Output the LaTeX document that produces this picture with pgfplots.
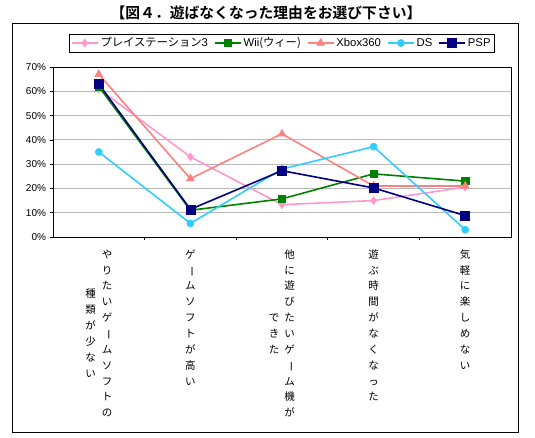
\documentclass[border=0pt]{standalone}
\usepackage{fontspec}
\setmainfont{Liberation Sans}
\newfontfamily\cjk{Noto Sans CJK JP}
\newfontfamily\cjkb{Noto Sans CJK JP Bold}
\usepackage{pgfplots}
\pgfplotsset{compat=1.18}
\definecolor{ps3}{HTML}{FF99CC}
\definecolor{wii}{HTML}{008000}
\definecolor{xbox}{HTML}{FF8080}
\definecolor{ds}{HTML}{33CCFF}
\definecolor{psp}{HTML}{000080}
\newcommand{\chou}{\rotatebox[origin=c]{-90}{ー}}
\newcommand{\vs}[1]{\begin{tabular}[c]{@{}c@{}}#1\end{tabular}}
\newcommand{\lblA}{\begin{tabular}[t]{@{}c@{\hspace{6pt}}c@{}}\vs{種\\類\\が\\少\\な\\い} & \vs{や\\り\\た\\い\\ゲ\\\chou\\ム\\ソ\\フ\\ト\\の}\end{tabular}}
\newcommand{\lblB}{\vs{ゲ\\\chou\\ム\\ソ\\フ\\ト\\が\\高\\い}}
\newcommand{\lblC}{\begin{tabular}[t]{@{}c@{\hspace{5pt}}c@{}}\vs{で\\き\\た} & \vs{他\\に\\遊\\び\\た\\い\\ゲ\\\chou\\ム\\機\\が}\end{tabular}}
\newcommand{\lblD}{\vs{遊\\ぶ\\時\\間\\が\\な\\く\\な\\っ\\た}}
\newcommand{\lblE}{\vs{気\\軽\\に\\楽\\し\\め\\な\\い}}
\begin{document}
\begin{tikzpicture}
\useasboundingbox (0,0) rectangle (535pt,438pt);
\draw[line width=0.8pt] (12pt,6pt) rectangle (518pt,415pt);
\node[font=\cjkb\fontsize{14.8}{16}\selectfont] at (266pt,425.5pt) {【図４．遊ばなくなった理由をお選び下さい】};
\begin{axis}[
  at={(53pt,201pt)}, anchor=south west,
  width=458pt, height=170pt, scale only axis,
  xmin=0.5, xmax=5.5, ymin=0, ymax=70,
  xtick={1.5,2.5,3.5,4.5}, xticklabels={},
  extra x ticks={1,2,3,4,5},
  extra x tick labels={\lblA,\lblB,\lblC,\lblD,\lblE},
  extra x tick style={major tick length=0pt, grid=none},
  xticklabel style={anchor=north, inner sep=0pt, yshift=-10pt,
    font=\cjk\fontsize{10.5}{12}\selectfont\renewcommand{\arraystretch}{1.32}},
  ytick={0,10,...,70},
  yticklabel={\pgfmathprintnumber[assume math mode=true]{\tick}\%},
  yticklabel style={font=\fontsize{10}{12}\selectfont},
  tick pos=left, tick align=outside,
  major tick length=3.5pt,
  tick style={black, line width=0.7pt},
  ymajorgrids, grid style={gray!55, line width=0.8pt},
  axis line style={line width=0.9pt},
  legend columns=5,
  legend style={at={(0.4995,1.141)}, anchor=center, draw=black, line width=0.8pt,
    font=\fontsize{11.3}{13}\selectfont, inner sep=1.5pt,
    /tikz/every even column/.append style={column sep=4pt}},
  legend image code/.code={\draw[mark repeat=2,mark phase=2] plot coordinates {(0pt,0pt) (13pt,0pt) (26pt,0pt)};},
  legend cell align=left,
]
\addplot[ps3, line width=1.6pt, mark=diamond*, mark size=4pt, mark options={fill=ps3, line width=0.5pt}]
  coordinates {(1,61) (2,33) (3,13.3) (4,15) (5,20.5)};
\addlegendentry{{\cjk プレイステーション}3}
\addplot[wii, line width=1.6pt, mark=square*, mark size=3.6pt, mark options={fill=wii, line width=0.5pt}]
  coordinates {(1,62) (2,11) (3,15.7) (4,26) (5,23)};
\addlegendentry{Wii{\cjk (ウィー)}}
\addplot[xbox, line width=1.6pt, mark=triangle*, mark size=4.5pt, mark options={fill=xbox, line width=0.5pt}]
  coordinates {(1,67) (2,24) (3,42.5) (4,21) (5,21)};
\addlegendentry{Xbox360}
\addplot[ds, line width=1.6pt, mark=*, mark size=3.6pt, mark options={fill=ds, line width=0.5pt}]
  coordinates {(1,35) (2,5.6) (3,28) (4,37.2) (5,3)};
\addlegendentry{DS}
\addplot[psp, line width=1.6pt, mark=square*, mark size=4.5pt, mark options={fill=psp, line width=0.5pt}]
  coordinates {(1,63) (2,11.4) (3,27.3) (4,20.2) (5,8.8)};
\addlegendentry{PSP}
\end{axis}
\end{tikzpicture}
\end{document}
